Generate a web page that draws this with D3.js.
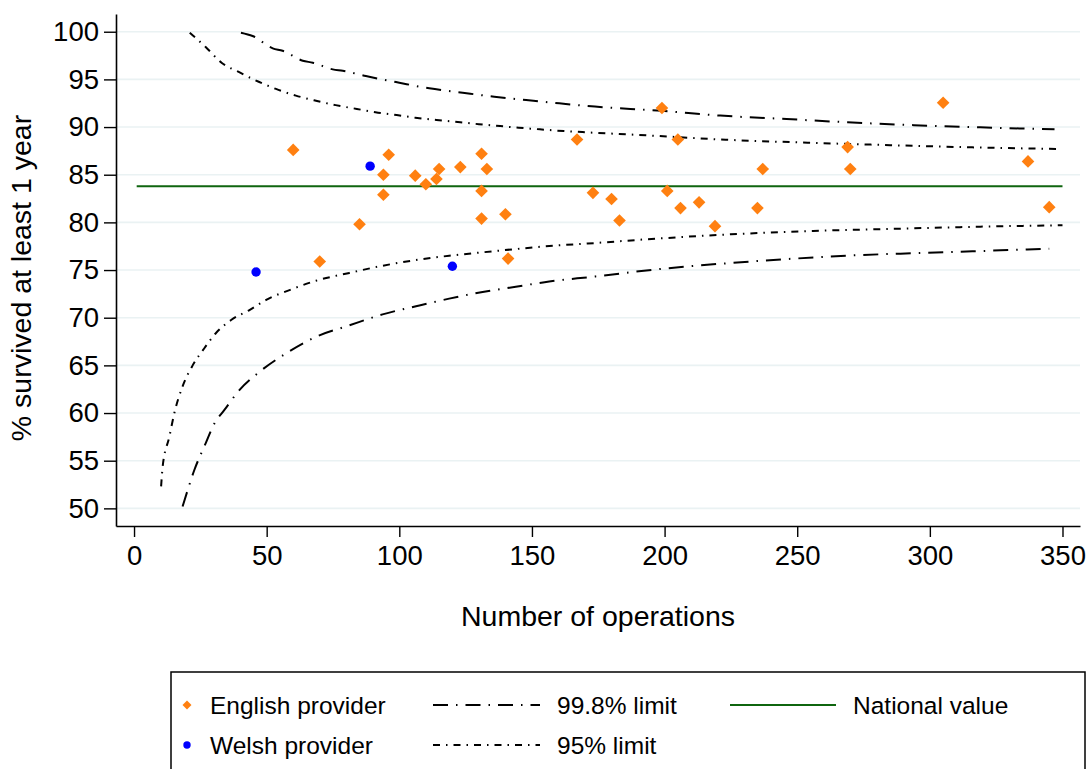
<!DOCTYPE html>
<html><head><meta charset="utf-8">
<script src="https://cdn.jsdelivr.net/npm/d3@7"></script>
<style>body{margin:0;background:#fff}svg{display:block;font-family:"Liberation Sans",Arial,sans-serif}</style>
</head><body><svg id="c" width="1092" height="769"></svg>
<script>
// English providers: [number of operations, % survived]
const englishN = [60,70,85,94,94,96,106,110,114,115,123,131,131,131,133,140,141,167,173,180,183,199,201,205,206,213,219,235,237,269,270,305,337,345];
const englishY = [87.6,75.9,79.8,85.0,82.9,87.1,84.9,84.0,84.55,85.6,85.8,87.2,83.3,80.4,85.6,80.85,76.2,88.7,83.1,82.45,80.2,92.0,83.3,88.7,81.5,82.1,79.6,81.5,85.6,87.9,85.6,92.55,86.4,81.6];
const welshN = [46,89,120];
const welshY = [74.8,85.9,75.4];
const nationalValue = 83.8;
const nationalRange = [1,350];
// Control limits
const up95N = [21,27,33,40,47,53.5,61,68.6,76,84,91,99,106,114,123,130,138,145,153,162,169,193,223,254,285,316,348];
const up95Y = [99.9,98.4,96.75,95.7,94.75,94.0,93.3,92.76,92.3,91.9,91.55,91.26,90.98,90.74,90.5,90.3,90.1,89.93,89.76,89.58,89.47,89.13,88.67,88.36,88.1,87.87,87.7];
const lo95N = [10.2,10.8,13.3,15.2,18.3,22.1,26.5,30.9,36.6,43.5,50.4,58.6,68.6,81.2,93.7,106.3,118.8,131.4,143.9,156.5,171,193,225,256,287,319,350];
const lo95Y = [52.3,54.4,57.5,60.0,62.8,65.0,66.8,68.4,69.76,70.8,71.96,72.9,73.88,74.7,75.45,76.05,76.5,76.86,77.2,77.52,77.78,78.22,78.75,79.1,79.33,79.55,79.7];
const up998N = [40.3,44.7,52.3,56,63.6,67.4,74.9,78.7,87.4,100,111.3,123.9,135.8,147.8,160.3,171,199,221,246,269,294,319,347];
const up998Y = [99.9,99.55,98.26,98.0,96.96,96.75,96.05,95.9,95.35,94.65,94.06,93.6,93.18,92.84,92.49,92.2,91.7,91.2,90.84,90.5,90.2,89.97,89.76];
const lo998N = [18.3,20.2,22.7,26.5,30.3,34,39.7,47.2,57.3,68.6,81.2,93.7,106.3,118.8,131.4,143.9,156.5,173,198,223,249,272,298,323,345];
const lo998Y = [50.2,51.9,54.0,56.5,58.9,60.3,62.4,64.3,66.26,68.0,69.2,70.35,71.2,72.0,72.7,73.25,73.8,74.3,75.1,75.7,76.2,76.55,76.8,77.03,77.24];
const yTicks = [50,55,60,65,70,75,80,85,90,95,100];
const xTicks = [0,50,100,150,200,250,300,350];
const legendItems = ["English provider","Welsh provider","99.8% limit","95% limit","National value"];

const svg = d3.select("#c");
const x = d3.scaleLinear().domain([-6.8,356.6]).range([116,1080]);
const y = d3.scaleLinear().domain([48.15,101.86]).range([526,14]);
const orange = "#ff8011", blue = "#0000ff", green = "#0f650f";
const dash998 = "15,8,1.5,8", dash95 = "7,6,1.5,6";

// gridlines
svg.append("g").selectAll("line").data(yTicks).join("line")
  .attr("x1",117).attr("x2",1080).attr("y1",d=>y(d)).attr("y2",d=>y(d))
  .attr("stroke","#eaf2f3").attr("stroke-width",1.6);

// axes
const yAxis = svg.append("g").attr("transform","translate(116,0)")
  .call(d3.axisLeft(y).tickValues(yTicks).tickSize(12).tickSizeOuter(0).tickPadding(5));
const xAxis = svg.append("g").attr("transform","translate(0,526)")
  .call(d3.axisBottom(x).tickValues(xTicks).tickSize(11).tickSizeOuter(0).tickPadding(8));
[yAxis,xAxis].forEach(g=>{
  g.select(".domain").attr("stroke","#000").attr("stroke-width",1.6);
  g.selectAll(".tick line").attr("stroke","#000").attr("stroke-width",1.4);
  g.selectAll(".tick text").attr("fill","#000").style("font-size","27.5px").style("font-family","Liberation Sans, Arial, sans-serif");
});

// limit curves
const line = d3.line().x(d=>x(d[0])).y(d=>y(d[1])).curve(d3.curveMonotoneX);
const curves = [[up998N,up998Y,dash998],[lo998N,lo998Y,dash998],[up95N,up95Y,dash95],[lo95N,lo95Y,dash95]];
curves.forEach(([ns,vs,da])=>{
  svg.append("path").datum(ns.map((n,i)=>[n,vs[i]])).attr("d",line)
    .attr("fill","none").attr("stroke","#000").attr("stroke-width",2).attr("stroke-dasharray",da);
});

// national line
svg.append("line").attr("x1",x(nationalRange[0])).attr("x2",x(nationalRange[1]))
  .attr("y1",y(nationalValue)).attr("y2",y(nationalValue)).attr("stroke",green).attr("stroke-width",2);

// points
const diamond = d3.symbol().type(d3.symbolSquare).size(80);
svg.append("g").selectAll("path").data(englishN.map((n,i)=>[n,englishY[i]])).join("path")
  .attr("d",diamond).attr("transform",d=>`translate(${x(d[0])},${y(d[1])}) rotate(45)`).attr("fill",orange);
svg.append("g").selectAll("circle").data(welshN.map((n,i)=>[n,welshY[i]])).join("circle")
  .attr("cx",d=>x(d[0])).attr("cy",d=>y(d[1])).attr("r",4.7).attr("fill",blue);

// axis titles
svg.append("text").attr("x",598).attr("y",626).attr("text-anchor","middle").style("font-size","28.5px").text("Number of operations");
svg.append("text").attr("transform","translate(31,278) rotate(-90)").attr("text-anchor","middle").style("font-size","28.5px").text("% survived at least 1 year");

// legend
const lg = svg.append("g");
lg.append("rect").attr("x",171).attr("y",672).attr("width",914).attr("height",130).attr("fill","#fff").attr("stroke","#000").attr("stroke-width",1.5);
const fs = "24.5px";
lg.append("path").attr("d",d3.symbol().type(d3.symbolSquare).size(40)).attr("transform","translate(187,705) rotate(45)").attr("fill",orange);
lg.append("circle").attr("cx",187).attr("cy",745).attr("r",3.7).attr("fill",blue);
lg.append("text").attr("x",210).attr("y",714).style("font-size",fs).text(legendItems[0]);
lg.append("text").attr("x",210).attr("y",754).style("font-size",fs).text(legendItems[1]);
lg.append("line").attr("x1",433).attr("x2",540).attr("y1",705).attr("y2",705).attr("stroke","#000").attr("stroke-width",2).attr("stroke-dasharray",dash998);
lg.append("line").attr("x1",433).attr("x2",540).attr("y1",745).attr("y2",745).attr("stroke","#000").attr("stroke-width",2).attr("stroke-dasharray",dash95);
lg.append("text").attr("x",557).attr("y",714).style("font-size",fs).text(legendItems[2]);
lg.append("text").attr("x",557).attr("y",754).style("font-size",fs).text(legendItems[3]);
lg.append("line").attr("x1",730).attr("x2",836).attr("y1",705).attr("y2",705).attr("stroke",green).attr("stroke-width",2);
lg.append("text").attr("x",853).attr("y",714).style("font-size",fs).text(legendItems[4]);
</script></body></html>
